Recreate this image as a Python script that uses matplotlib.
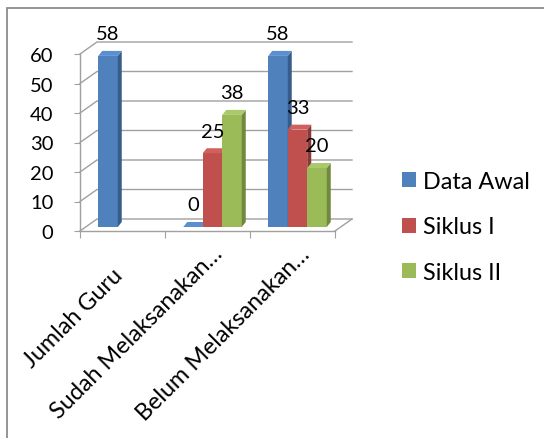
import matplotlib
matplotlib.use("Agg")
import matplotlib.pyplot as plt
import matplotlib.transforms as mtransforms
from matplotlib.patches import Polygon, Rectangle
import numpy as np

# ---------------- data ----------------
categories = ["Jumlah Guru", "Sudah Melaksanakan…", "Belum Melaksanakan…"]
series_names = ["Data Awal", "Siklus I", "Siklus II"]
data_awal = [58, 0, 58]
siklus_1 = [np.nan, 25, 33]
siklus_2 = [np.nan, 38, 20]
y_ticks = [0, 10, 20, 30, 40, 50, 60]

# ---------------- style ----------------
FONT = ["Lato", "DejaVu Sans"]
plt.rcParams["font.family"] = FONT
FS_NUM = 14.5
FS_TXT = 16.8
front_cols = ["#4F81BD", "#C0504D", "#9BBB59"]
side_cols = ["#385D8A", "#8C3836", "#71893F"]
top_cols = ["#5B8FD0", "#D0605C", "#A9C96A"]
grid_col = "#A0A0A0"

W, H = 544, 439
fig = plt.figure(figsize=(W / 100, H / 100), dpi=100)
fig.patch.set_facecolor("white")

# chart-area frame
fig.patches.append(Rectangle((7 / W, -0.1), 1.2, (H - 9) / H + 0.1,
                             transform=fig.transFigure, fill=False,
                             edgecolor="#8C8C8C", lw=1.3))

ax = fig.add_axes([80 / W, (H - 232) / H, 255 / W, 177 / H])
ax.set_xlim(-0.5, 2.5)
ax.set_ylim(0, 60)
ax.patch.set_alpha(0)

pxx = 255 / 3.0      # px per category
pxy = 177 / 60.0     # px per unit
WX, WY = 17 / pxx, 12 / pxy          # wall depth offset
BX, BY = 5 / pxx, 4 / pxy            # bar placement offset
DX, DY = 4 / pxx, 5 / pxy            # bar depth
bw = 19.5 / pxx

# walls / gridlines
for v in y_ticks:
    ax.plot([-0.5, -0.5 + WX, 2.5 + WX], [v, v + WY, v + WY], color=grid_col,
            lw=1.0, clip_on=False, zorder=1)
ax.plot([2.5, 2.5 + WX], [0, WY], color=grid_col, lw=1.0, clip_on=False, zorder=1)

# axes spines / ticks
for s in ["top", "right"]:
    ax.spines[s].set_visible(False)
for s in ["left", "bottom"]:
    ax.spines[s].set_color(grid_col)
    ax.spines[s].set_linewidth(1.0)
ax.set_yticks(y_ticks)
ax.set_yticklabels([str(v) for v in y_ticks], fontsize=FS_NUM)
ax.tick_params(axis="y", length=4, color=grid_col, pad=15)
ax.set_xticks([-0.5, 0.5, 1.5, 2.5])
ax.set_xticklabels([])
ax.tick_params(axis="x", length=5, color=grid_col)

# bars
series = [data_awal, siklus_1, siklus_2]
x = np.arange(len(categories))
for i, vals in enumerate(series):
    xs = x + BX + (i - 1) * bw
    vals_arr = np.array(vals, dtype=float)
    bars = ax.bar(xs, vals_arr, width=bw, bottom=BY, color=front_cols[i],
                  zorder=3, clip_on=False, linewidth=0, label=series_names[i])
    for b, v in zip(bars, vals_arr):
        if np.isnan(v):
            continue
        x0, y0 = b.get_x(), b.get_y()
        x1, y1 = x0 + b.get_width(), y0 + b.get_height()
        side = Polygon([(x1, y0), (x1 + DX, y0 + DY), (x1 + DX, y1 + DY), (x1, y1)],
                       closed=True, facecolor=side_cols[i], edgecolor="none",
                       zorder=3, clip_on=False)
        top = Polygon([(x0, y1), (x0 + DX, y1 + DY), (x1 + DX, y1 + DY), (x1, y1)],
                      closed=True, facecolor=top_cols[i], edgecolor="none",
                      zorder=3, clip_on=False)
        ax.add_patch(side)
        ax.add_patch(top)
        ax.annotate(f"{v:.0f}", (x0 + bw / 2, y1), xytext=(0, 16),
                    textcoords="offset points", ha="center", va="center",
                    fontsize=FS_NUM, zorder=5, annotation_clip=False)

# category labels (rotated)
label_offsets = [(-3, -40), (11.5, -19), (13.5, -19)]  # px
for xi, lab, (ox, oy) in zip(x, categories, label_offsets):
    tr = ax.get_xaxis_transform() + mtransforms.ScaledTranslation(ox / 100, oy / 100, fig.dpi_scale_trans)
    ax.text(xi, 0, lab, transform=tr, rotation=45, rotation_mode="anchor",
            ha="right", va="center", fontsize=FS_TXT)

# legend
leg = fig.legend(loc="upper left", bbox_to_anchor=(402 / W, 1 - 172 / H),
                 frameon=False, fontsize=FS_TXT, handlelength=0.6, handleheight=0.6,
                 labelspacing=1.05, handletextpad=0.3, borderpad=0, borderaxespad=0)

fig.savefig("out.png", dpi=100, facecolor="white")
